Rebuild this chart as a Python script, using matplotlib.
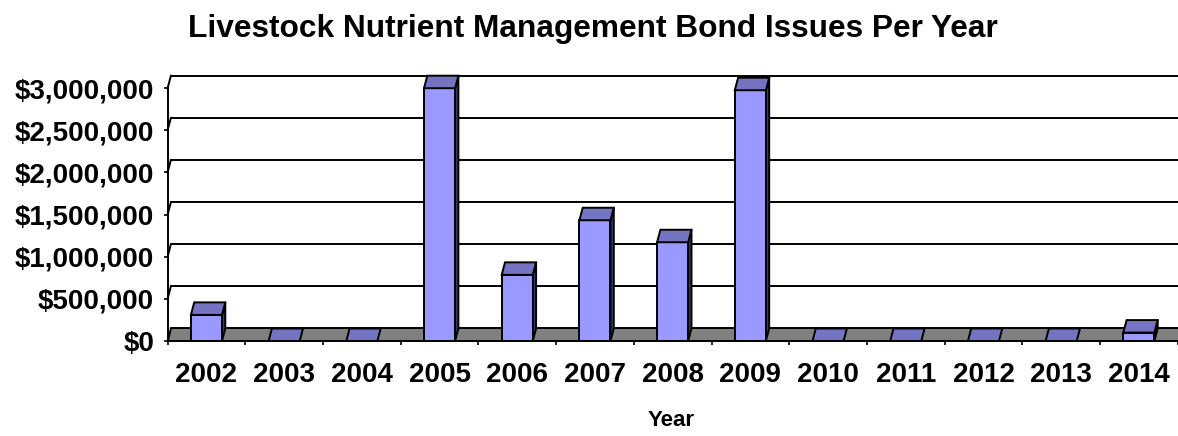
import matplotlib
matplotlib.use("Agg")
import matplotlib.pyplot as plt
from matplotlib.patches import Polygon, Rectangle
from matplotlib.ticker import FuncFormatter

# ---- data ----
years = ["2002", "2003", "2004", "2005", "2006", "2007", "2008",
         "2009", "2010", "2011", "2012", "2013", "2014"]
amounts = [310000, 0, 0, 3000000, 785000, 1433000, 1172000,
           2976000, 0, 0, 0, 0, 100000]
y_ticks = [0, 500000, 1000000, 1500000, 2000000, 2500000, 3000000]
title = "Livestock Nutrient Management Bond Issues Per Year"
xlabel = "Year"

# ---- style ----
FRONT = "#9999FF"
TOP = "#7474C2"
SIDE = "#3C3C78"
FLOOR = "#808080"
FONT = ["Liberation Sans", "DejaVu Sans"]

W, H = 1178, 436
fig = plt.figure(figsize=(W / 100, H / 100), dpi=100)
left_px, right_px = 167.6, 1177.7
bottom_px, top_px = 341.0, 75.7
ax = fig.add_axes([left_px / W, (H - bottom_px) / H,
                   (right_px - left_px) / W, (bottom_px - top_px) / H])

n = len(years)
ymax_front = 3000000
px_per_dollar = (bottom_px - 88.3) / ymax_front
DY = 12.5 / px_per_dollar            # depth offset in data units (y)
DX = 3.3 / ((right_px - left_px) / n)  # depth offset in data units (x)
ax.set_xlim(0, n)
ax.set_ylim(0, ymax_front + DY)

for s in ax.spines.values():
    s.set_visible(False)

lw = 1.4
# back-wall gridlines and left-wall slants
for v in y_ticks[1:]:
    ax.plot([DX, n + DX], [v + DY, v + DY], color="black", lw=lw,
            clip_on=False, zorder=1)
    ax.plot([0, DX], [v, v + DY], color="black", lw=lw, clip_on=False, zorder=1)
# y axis line (front)
ax.plot([0, 0], [0, ymax_front], color="black", lw=lw, clip_on=False, zorder=5)

# floor
floor = Polygon([(0, 0), (n + DX, 0), (n + DX, DY), (DX, DY)], closed=True,
                facecolor=FLOOR, edgecolor="black", lw=lw, clip_on=False, zorder=2)
ax.add_patch(floor)
ax.plot([0, n + DX], [0, 0], color="black", lw=lw, clip_on=False, zorder=6)

# bars
bw = 0.40
for i, v in enumerate(amounts):
    x0 = i + 0.5 - bw / 2
    if v > 0:
        ax.add_patch(Polygon([(x0 + bw, 0), (x0 + bw + DX, DY),
                              (x0 + bw + DX, v + DY), (x0 + bw, v)],
                             closed=True, facecolor=SIDE, edgecolor="black",
                             lw=lw, zorder=3, clip_on=False))
        ax.add_patch(Rectangle((x0, 0), bw, v, facecolor=FRONT,
                               edgecolor="black", lw=lw, zorder=4, clip_on=False))
    ax.add_patch(Polygon([(x0, v), (x0 + bw, v), (x0 + bw + DX, v + DY),
                          (x0 + DX, v + DY)], closed=True, facecolor=TOP,
                         edgecolor="black", lw=lw, zorder=4, clip_on=False))

# ticks
ax.set_yticks(y_ticks)
ax.yaxis.set_major_formatter(FuncFormatter(lambda v, p: f"${v:,.0f}"))
ax.tick_params(axis="y", direction="out", length=3.2, width=1.2, pad=6.5,
               labelsize=20)
ax.set_xticks(range(n + 1))
ax.set_xticklabels([])
ax.set_xticks([i + 0.5 for i in range(n)], minor=True)
ax.set_xticklabels(years, minor=True)
ax.tick_params(axis="x", which="major", direction="out", length=3.2, width=1.2)
ax.tick_params(axis="x", which="minor", length=0, pad=15, labelsize=20)
for lab in ax.get_xticklabels(minor=True) + ax.get_yticklabels():
    lab.set_fontfamily(FONT)
    lab.set_fontweight("bold")

fig.text(592.5 / W, (H - 36.7) / H, title, ha="center", va="baseline",
         fontsize=22.8, fontweight="bold", family=FONT)
fig.text(671.5 / W, (H - 426) / H, xlabel, ha="center", va="baseline",
         fontsize=16, fontweight="bold", family=FONT)

fig.savefig("out.png", dpi=100)
